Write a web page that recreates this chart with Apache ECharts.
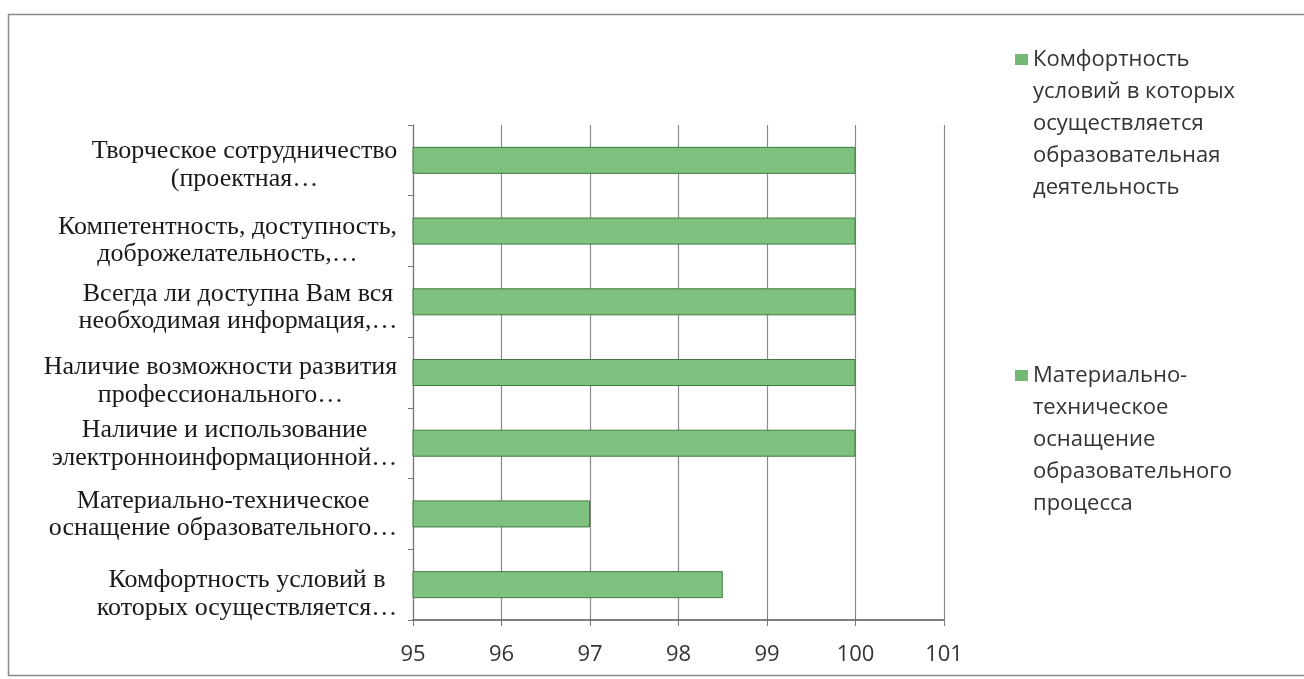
<!DOCTYPE html>
<html><head><meta charset="utf-8">
<script src="https://cdn.jsdelivr.net/npm/echarts@6/dist/echarts.min.js"></script>
<style>html,body{margin:0;padding:0;background:#fff}#c{width:1304px;height:679px}</style>
</head><body><div id="c"></div>
<script>
// Categories from bottom to top
const categories = [
  'Комфортность условий в\nкоторых осуществляется…',
  'Материально-техническое\nоснащение образовательного…',
  'Наличие и использование\nэлектронноинформационной…',
  'Наличие возможности развития\nпрофессионального…',
  'Всегда ли доступна Вам вся\nнеобходимая информация,…',
  'Компетентность, доступность,\nдоброжелательность,…',
  'Творческое сотрудничество\n(проектная…'
];
const values = [98.5, 97, 100, 100, 100, 100, 100];
const legendNames = [
  'Комфортность условий в которых осуществляется образовательная деятельность',
  'Материально-техническое оснащение образовательного процесса'
];
const legendWrapped = [
  'Комфортность\nусловий в которых\nосуществляется\nобразовательная\nдеятельность',
  'Материально-\nтехническое\nоснащение\nобразовательного\nпроцесса'
];
const xTicks = [95, 96, 97, 98, 99, 100, 101];

const labelFont = '"Liberation Serif", "Times New Roman", serif';
const labelSize = 26;
const labelLine = 29;
// slight vertical offsets of the scanned labels (px, downwards), bottom to top
const labelShift = [9, 0, 0, 8, 5, 9, 4];
const cv = document.createElement('canvas').getContext('2d');
cv.font = labelSize + 'px ' + labelFont;
const rich = {};
categories.forEach((c, i) => {
  const w = Math.max(...c.split('\n').map(s => cv.measureText(s).width));
  const base = { width: Math.ceil(w) + 1, align: 'center', fontFamily: labelFont, fontSize: labelSize, lineHeight: labelLine, color: '#1a1a1a' };
  rich['t' + i] = Object.assign({}, base, { lineHeight: labelLine + 2 * labelShift[i], verticalAlign: 'bottom' });
  rich['r' + i] = base;
});

const chart = echarts.init(document.getElementById('c'));
chart.setOption({
  backgroundColor: '#fff',
  animation: false,
  graphic: [{ type: 'rect', shape: { x: 8.5, y: 14.5, width: 1310, height: 661 }, style: { fill: 'none', stroke: '#8a8a8a', lineWidth: 1.5 }, silent: true }],
  grid: { left: 413, right: 360, top: 125, bottom: 59 },
  legend: {
    orient: 'vertical', left: 1010, top: 39, itemGap: 156,
    itemWidth: 13, itemHeight: 160,
    icon: 'path://M0,0h0.01v0.01h-0.01z M12.99,159.99h0.01v0.01h-0.01z M0,10h13v11h-13z',
    itemStyle: { borderWidth: 0, color: '#74b874' },
    data: legendNames,
    formatter: n => legendWrapped[legendNames.indexOf(n)],
    textStyle: { fontFamily: '"Open Sans", "Noto Sans", sans-serif', fontSize: 22, lineHeight: 32, color: '#333' },
    selectedMode: false
  },
  xAxis: {
    type: 'value', min: 95, max: 101, interval: 1,
    axisLine: { show: true, lineStyle: { color: '#555', width: 1.5 } },
    axisTick: { show: true, length: 6, lineStyle: { color: '#777' } },
    splitLine: { show: true, lineStyle: { color: '#8a8a8a', width: 1.2 } },
    axisLabel: { margin: 24, fontFamily: '"Open Sans", "Noto Sans", sans-serif', fontSize: 22, color: '#333',
      formatter: v => xTicks.includes(v) ? String(v) : '' }
  },
  yAxis: {
    type: 'category', data: categories,
    axisLine: { show: true, lineStyle: { color: '#777', width: 1.2 } },
    axisTick: { show: true, length: 5, lineStyle: { color: '#777' } },
    axisLabel: {
      margin: 15, align: 'right',
      formatter: (v, i) => v.split('\n').map((s, k) => '{' + (k === 0 ? 't' : 'r') + i + '|' + s + '}').join('\n'),
      rich: rich
    }
  },
  series: [
    { name: legendNames[0], type: 'bar', data: values, barWidth: 27,
      itemStyle: { color: '#7fc27f', borderColor: '#3f7a3f', borderWidth: 1 } },
    { name: legendNames[1], type: 'bar', data: values.map(() => null), barWidth: 27, barGap: '-100%',
      itemStyle: { color: '#7fc27f', borderColor: '#3f7a3f', borderWidth: 1 } }
  ]
});
</script></body></html>
